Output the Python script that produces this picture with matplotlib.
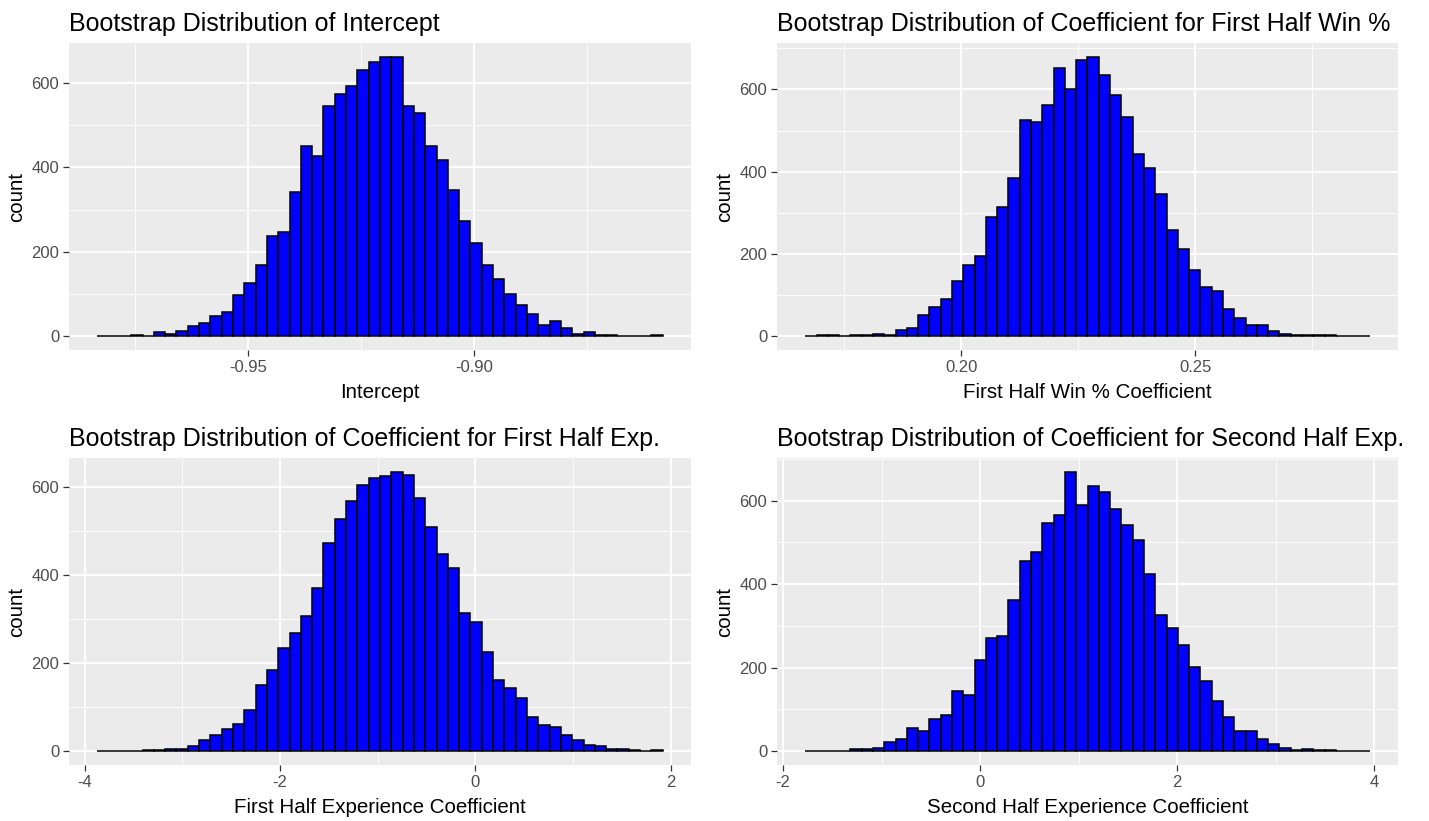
import numpy as np
import matplotlib
matplotlib.use("Agg")
import matplotlib.pyplot as plt
from matplotlib.ticker import MultipleLocator, FormatStrFormatter

plt.rcParams['font.family'] = ['Liberation Sans', 'DejaVu Sans']
plt.rcParams['axes.unicode_minus'] = False

# bootstrap counts, 50 bins each
intercept_counts = [0, 0, 0, 3, 0, 10, 6, 13, 23, 30, 47, 56, 97, 127, 169, 237, 247, 341, 451, 427,
                    545, 575, 594, 632, 651, 662, 662, 545, 528, 451, 418, 347, 274, 221, 169, 136, 99, 73, 52, 26,
                    36, 20, 6, 10, 3, 3, 0, 0, 0, 3]
intercept_range = (-0.9833, -0.8583)

win_counts = [0, 2, 2, 0, 2, 2, 5, 2, 15, 20, 50, 71, 89, 133, 173, 194, 290, 315, 385, 525,
              521, 562, 651, 600, 672, 679, 635, 586, 534, 442, 409, 346, 257, 212, 161, 120, 109, 65, 45, 27,
              27, 13, 6, 3, 3, 3, 3, 0, 0, 0]
win_range = (0.1667, 0.2873)

exp1_counts = [0, 0, 0, 0, 2, 2, 5, 5, 11, 24, 37, 49, 62, 94, 149, 184, 233, 267, 306, 369,
               472, 526, 568, 604, 619, 623, 633, 627, 575, 508, 448, 415, 312, 293, 225, 161, 142, 120, 78, 59,
               55, 36, 24, 14, 11, 5, 5, 2, 0, 2]
exp1_range = (-3.870, 1.916)

exp2_counts = [0, 0, 0, 0, 4, 4, 8, 22, 29, 56, 49, 76, 87, 144, 134, 218, 270, 275, 361, 456,
               476, 546, 567, 669, 590, 635, 621, 581, 541, 506, 425, 326, 296, 253, 202, 167, 120, 82, 48, 48,
               28, 18, 8, 2, 5, 2, 2, 0, 0, 0]
exp2_range = (-1.776, 3.954)

titles = ["Bootstrap Distribution of Intercept",
          "Bootstrap Distribution of Coefficient for First Half Win %",
          "Bootstrap Distribution of Coefficient for First Half Exp.",
          "Bootstrap Distribution of Coefficient for Second Half Exp."]
xlabels = ["Intercept", "First Half Win % Coefficient",
           "First Half Experience Coefficient", "Second Half Experience Coefficient"]


def draw_hist(ax, counts, rng, title, xlabel, major, fmt):
    counts = np.array(counts)
    edges = np.linspace(rng[0], rng[1], len(counts) + 1)
    w = edges[1] - edges[0]
    ax.bar(edges[:-1], counts, width=w, align='edge', color='blue',
           edgecolor='black', linewidth=1.1, zorder=3)
    span = rng[1] - rng[0]
    ax.set_xlim(rng[0] - 0.05 * span, rng[1] + 0.05 * span)
    top = counts.max()
    ax.set_ylim(-0.05 * top, 1.05 * top)

    ax.set_facecolor('#EBEBEB')
    for s in ax.spines.values():
        s.set_visible(False)
    ax.xaxis.set_major_locator(MultipleLocator(major))
    ax.xaxis.set_minor_locator(MultipleLocator(major / 2))
    ax.xaxis.set_major_formatter(FormatStrFormatter(fmt))
    ax.yaxis.set_major_locator(MultipleLocator(200))
    ax.yaxis.set_minor_locator(MultipleLocator(100))
    ax.grid(which='major', color='white', linewidth=1.3, zorder=0)
    ax.grid(which='minor', color='white', linewidth=0.6, zorder=0)
    ax.set_axisbelow(True)
    ax.tick_params(which='major', length=4, width=0.9, color='#333333',
                   labelsize=12, labelcolor='#4D4D4D', pad=3)
    ax.tick_params(which='minor', length=0)

    ax.set_title(title, loc='left', fontsize=18, pad=9)
    ax.set_xlabel(xlabel, fontsize=14.8, labelpad=6)
    ax.set_ylabel("count", fontsize=14.8, labelpad=4)


fig = plt.figure(figsize=(14.29, 8.21), dpi=100)
W, H = 1429.0, 821.0
boxes = [(69, 43, 691, 350), (777, 43, 1398, 350),
         (69, 458, 691, 765), (777, 458, 1398, 765)]
axes = []
for (x0, y0, x1, y1) in boxes:
    axes.append(fig.add_axes([x0 / W, 1 - y1 / H, (x1 - x0) / W, (y1 - y0) / H]))

draw_hist(axes[0], intercept_counts, intercept_range, titles[0], xlabels[0], 0.05, '%.2f')
draw_hist(axes[1], win_counts, win_range, titles[1], xlabels[1], 0.05, '%.2f')
draw_hist(axes[2], exp1_counts, exp1_range, titles[2], xlabels[2], 2, '%d')
draw_hist(axes[3], exp2_counts, exp2_range, titles[3], xlabels[3], 2, '%d')

fig.savefig("out.png", dpi=100)
